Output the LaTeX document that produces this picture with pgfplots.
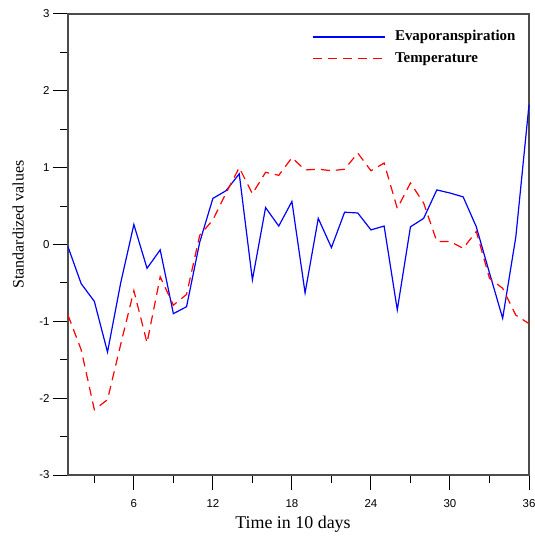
\documentclass[border=0pt]{standalone}
\usepackage{fontspec}
\setmainfont{Liberation Serif}
\setsansfont{Liberation Sans}
\usepackage{pgfplots}
\pgfplotsset{compat=1.18}
\begin{document}
\begin{tikzpicture}[x=1bp,y=1bp]
\useasboundingbox (-68,-66) rectangle (467,475);
\begin{axis}[
  at={(0,0)}, anchor=south west,
  scale only axis, width=461bp, height=461bp,
  xmin=1, xmax=36, ymin=-3, ymax=3,
  xtick={6,12,...,36}, minor xtick={3,9,...,33},
  ytick={-3,-2,...,3}, minor ytick={-2.5,-1.5,...,2.5},
  tick align=outside, tick pos=left,
  major tick length=15bp, minor tick length=8bp,
  tick style={black, line width=1bp},
  axis line style={gray!60!black, line width=1.2bp},
  ticklabel style={font=\sffamily\fontsize{11.5}{12}\selectfont},
  xticklabel style={yshift=-6bp},
  /pgf/number format/assume math mode=true,
  xlabel={Time in 10 days},
  xlabel style={at={(axis description cs:0.488,-0.106)}, anchor=center, font=\fontsize{18}{18}\selectfont},
  ylabel={Standardized values},
  ylabel style={at={(axis description cs:-0.108,0.543)}, anchor=center, rotate=0, font=\fontsize{16}{16}\selectfont},
  clip=false,
]
\addplot[blue, line width=1.2bp] coordinates {
(1,-0.03) (2,-0.51) (3,-0.74) (4,-1.40) (5,-0.50) (6,0.26) (7,-0.31) (8,-0.07)
(9,-0.90) (10,-0.81) (11,0.03) (12,0.60) (13,0.70) (14,0.92) (15,-0.46) (16,0.48)
(17,0.24) (18,0.56) (19,-0.63) (20,0.34) (21,-0.04) (22,0.42) (23,0.41) (24,0.19)
(25,0.24) (26,-0.85) (27,0.23) (28,0.34) (29,0.71) (30,0.67) (31,0.62) (32,0.23)
(33,-0.37) (34,-0.96) (35,0.10) (36,1.82)};
\addplot[red, line width=1.2bp, dash pattern=on 9bp off 6bp] coordinates {
(1,-0.92) (2,-1.37) (3,-2.15) (4,-2.02) (5,-1.30) (6,-0.60) (7,-1.28) (8,-0.42)
(9,-0.79) (10,-0.65) (11,0.12) (12,0.32) (13,0.67) (14,1.00) (15,0.66) (16,0.94)
(17,0.90) (18,1.13) (19,0.97) (20,0.98) (21,0.96) (22,0.98) (23,1.19) (24,0.96)
(25,1.06) (26,0.47) (27,0.80) (28,0.54) (29,0.04) (30,0.04) (31,-0.05) (32,0.17)
(33,-0.44) (34,-0.57) (35,-0.92) (36,-1.03)};
% legend
\draw[blue, line width=1.2bp] (axis description cs:0.531,0.950) -- (axis description cs:0.687,0.950);
\draw[red, line width=1.5bp, dash pattern=on 9bp off 6bp] (axis description cs:0.531,0.9035) -- (axis description cs:0.687,0.9035);
\node[anchor=west, inner sep=0pt, font=\bfseries\fontsize{15}{15}\selectfont] at (axis description cs:0.709,0.950) {Evaporanspiration};
\node[anchor=west, inner sep=0pt, font=\bfseries\fontsize{15}{15}\selectfont] at (axis description cs:0.709,0.903) {Temperature};
\end{axis}
\end{tikzpicture}
\end{document}
